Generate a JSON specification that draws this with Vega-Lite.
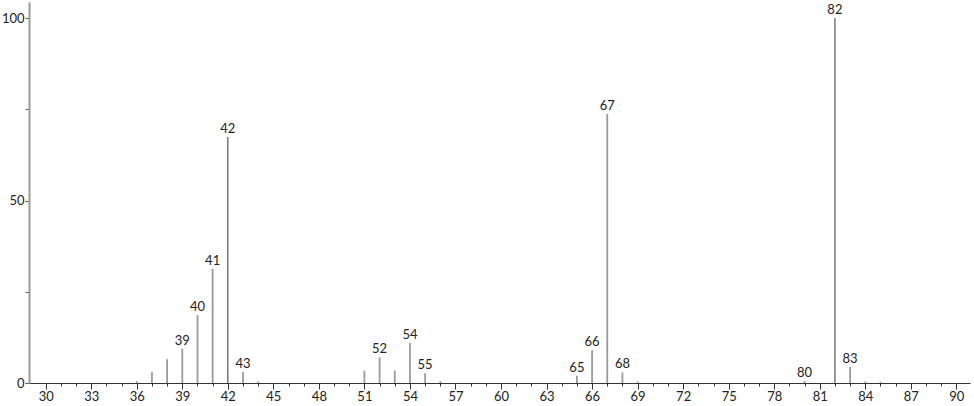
{
  "$schema": "https://vega.github.io/schema/vega-lite/v6.json",
  "width": 941,
  "height": 381,
  "autosize": "none",
  "padding": {"left": 29, "top": 2, "right": 4, "bottom": 23},
  "background": "white",
  "config": {"view": {"stroke": null}},
  "data": {"values": [
    {"mz": 36, "intensity": 0.5},
    {"mz": 37, "intensity": 3.0},
    {"mz": 38, "intensity": 6.5},
    {"mz": 39, "intensity": 9.4},
    {"mz": 40, "intensity": 18.6},
    {"mz": 41, "intensity": 31.3},
    {"mz": 42, "intensity": 67.4},
    {"mz": 43, "intensity": 3.0},
    {"mz": 44, "intensity": 0.4},
    {"mz": 51, "intensity": 3.4},
    {"mz": 52, "intensity": 7.0},
    {"mz": 53, "intensity": 3.4},
    {"mz": 54, "intensity": 11.0},
    {"mz": 55, "intensity": 2.7},
    {"mz": 56, "intensity": 0.5},
    {"mz": 65, "intensity": 2.0},
    {"mz": 66, "intensity": 9.0},
    {"mz": 67, "intensity": 73.7},
    {"mz": 68, "intensity": 2.9},
    {"mz": 69, "intensity": 0.4},
    {"mz": 80, "intensity": 0.5},
    {"mz": 82, "intensity": 100},
    {"mz": 83, "intensity": 4.4},
    {"mz": 84, "intensity": 0.4},
    {"mz": 85, "intensity": 0.3}
  ]},
  "encoding": {
    "x": {
      "field": "mz", "type": "quantitative",
      "scale": {"domain": [28.9, 90.9], "nice": false, "zero": false},
      "axis": {
        "title": null,
        "values": [30,31,32,33,34,35,36,37,38,39,40,41,42,43,44,45,46,47,48,49,50,51,52,53,54,55,56,57,58,59,60,61,62,63,64,65,66,67,68,69,70,71,72,73,74,75,76,77,78,79,80,81,82,83,84,85,86,87,88,89,90],
        "labelExpr": "datum.value % 3 === 0 ? datum.label : ''",
        "grid": false,
        "domainColor": "#333333",
        "domainWidth": 1,
        "tickColor": "#333333",
        "tickSize": {"condition": {"test": "datum.value % 3 === 0", "value": 6}, "value": 3},
        "labelFont": "Lato",
        "labelFontSize": 13,
        "labelColor": "#222222",
        "labelPadding": 1,
        "labelFlush": false
      }
    },
    "y": {
      "field": "intensity", "type": "quantitative",
      "scale": {"domain": [0, 104.4], "nice": false},
      "axis": {
        "title": null,
        "values": [0, 25, 50, 75, 100],
        "labelExpr": "datum.value % 50 === 0 ? datum.label : ''",
        "grid": false,
        "domainColor": "#999999",
        "domainWidth": 2,
        "tickColor": "#555555",
        "tickSize": 4,
        "labelFont": "Lato",
        "labelFontSize": 13,
        "labelColor": "#222222",
        "labelPadding": 1
      }
    }
  },
  "layer": [
    {
      "mark": {"type": "rule"},
      "encoding": {
        "y2": {"datum": 0},
        "color": {"condition": {"test": "datum.mz === 42 || datum.mz === 82", "value": "#555555"}, "value": "#9a9a9a"},
        "strokeWidth": {"condition": {"test": "datum.mz === 42 || datum.mz === 82", "value": 1.2}, "value": 1.8}
      }
    },
    {
      "transform": [{"filter": {"field": "mz", "oneOf": [39, 40, 41, 42, 43, 52, 54, 55, 65, 66, 67, 68, 80, 82, 83]}}],
      "mark": {"type": "text", "baseline": "alphabetic", "dy": -4, "font": "Lato", "fontSize": 13, "color": "#222222"},
      "encoding": {"text": {"field": "mz", "type": "quantitative"}}
    }
  ]
}
